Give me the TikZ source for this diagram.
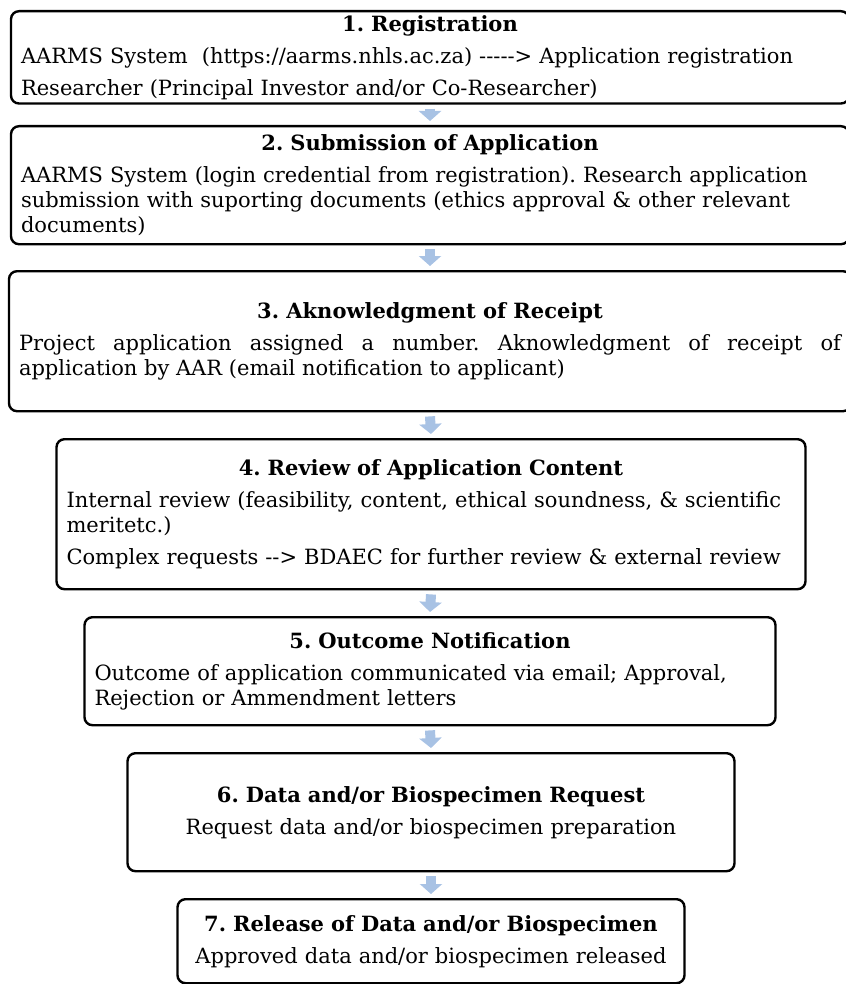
\documentclass[tikz,border=0pt]{standalone}
\usepackage{fontspec}
\setmainfont{DejaVu Serif}
\usetikzlibrary{arrows.meta}

\definecolor{arrowblue}{RGB}{168,194,228}
\newcommand{\steptitle}[1]{{\centering\fontsize{21}{25}\selectfont\bfseries #1\par}}

\tikzset{every picture/.style={line width=0.75pt}}

\begin{document}
\begin{tikzpicture}[x=1pt,y=-1pt,
    stepbox/.style={draw, line width=2.4pt, rounded corners=8pt, anchor=north,
      inner xsep=10pt, inner ysep=4pt,
      font=\fontsize{21}{25}\selectfont\frenchspacing\setlength{\parskip}{7pt}},
    flow/.style={arrowblue, line width=10pt, -{Triangle[width=22pt,length=10pt]}}]
    \useasboundingbox (0,0) rectangle (845,984);

    % Steps
    \node[stepbox, text width=818pt, minimum height=87pt] (reg) at (430,10) {%
      \steptitle{1. Registration}
      AARMS System\ \ (https://aarms.nhls.ac.za) -{}-{}-{}-{}-> Application registration\par
      Researcher (Principal Investor and/or Co-Researcher)};
    \node[stepbox, text width=818pt, minimum height=118pt] (sub) at (430,125) {%
      \steptitle{2. Submission of Application}
      AARMS System (login credential from registration). Research application\\
      submission with suporting documents (ethics approval \& other relevant\\
      documents)};
    \node[stepbox, align=justify, text width=822pt, minimum height=140pt] (ack) at (430,270) {%
      \steptitle{3. Aknowledgment of Receipt}
      Project application assigned a number. Aknowledgment of receipt of\linebreak
      application by AAR (email notification to applicant)};
    \node[stepbox, text width=729pt, minimum height=150pt] (rev) at (431,438) {%
      \steptitle{4. Review of Application Content}
      Internal review (feasibility, content, ethical soundness, \& scientific\\
      meritetc.)\par
      Complex requests -{}-> BDAEC for further review \& external review};
    \node[stepbox, text width=671pt, minimum height=108pt] (out) at (430,616) {%
      \steptitle{5. Outcome Notification}
      Outcome of application communicated via email; Approval,\\
      Rejection or Ammendment letters};
    \node[stepbox, align=center, text width=587pt, minimum height=118pt] (req) at (431,752) {%
      \steptitle{6. Data and/or Biospecimen Request}
      Request data and/or biospecimen preparation};
    \node[stepbox, align=center, text width=487pt, minimum height=84pt] (rel) at (431,898) {%
      \steptitle{7. Release of Data and/or Biospecimen}
      Approved data and/or biospecimen released};

    % Block arrows
    \draw[flow] ([yshift=-4pt]reg.south) -- ([yshift=4pt]sub.north);
    \draw[flow] ([yshift=-4pt]sub.south) -- ([yshift=4pt]ack.north);
    \draw[flow] ([yshift=-4pt]ack.south) -- ([yshift=4pt]rev.north);
    \draw[flow] ([yshift=-4pt]rev.south) -- ([yshift=4pt]out.north);
    \draw[flow] ([yshift=-4pt]out.south) -- ([yshift=4pt]req.north);
    \draw[flow] ([yshift=-4pt]req.south) -- ([yshift=4pt]rel.north);
\end{tikzpicture}
\end{document}
